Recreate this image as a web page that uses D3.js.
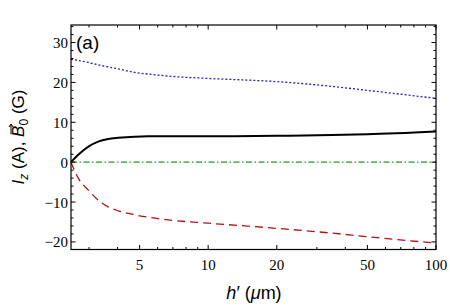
<!DOCTYPE html>
<html>
<head>
<meta charset="utf-8">
<script src="https://cdn.jsdelivr.net/npm/d3@7"></script>
<style>
  body { margin: 0; background: #fff; }
  svg { display: block; }
  .tick-label { font-family: "Liberation Serif", "DejaVu Serif", serif; font-size: 15px; fill: #000; }
  .axis-title { font-family: "Liberation Sans", Arial, sans-serif; font-size: 17px; fill: #000; }
</style>
</head>
<body>
<svg id="chart" width="450" height="307"></svg>
<script>
// data
const hVals = [2.5, 2.69, 2.98, 3.29, 3.64, 4.03, 4.77, 5.45, 7, 10, 20, 35, 50, 100];
const blackVals = [0, 1.85, 3.9, 5.15, 5.8, 6.1, 6.4, 6.5, 6.5, 6.5, 6.6, 6.8, 7.0, 7.7];
const blueVals = [25.8, 25.5, 25.0, 24.4, 23.9, 23.4, 22.5, 22.1, 21.5, 21.0, 20.2, 19.0, 18.0, 16.0];
const redVals = [0, -4.0, -7.0, -9.5, -11.2, -12.2, -13.2, -13.8, -14.6, -15.3, -16.6, -17.8, -18.7, -20.3];
const greenVals = [0, 0];
const greenH = [2.5, 100];

const xMajor = [5, 10, 20, 50, 100];
const xMinor = [3, 4, 6, 7, 8, 9, 30, 40, 60, 70, 80, 90];
const yMajor = [-20, -10, 0, 10, 20, 30];

const svg = d3.select('#chart');
const mLeft = 71, mRight = 436, mTop = 25, mBottom = 249.5;

const x = d3.scaleLog().domain([2.5, 100]).range([mLeft, mRight]);
const y = d3.scaleLinear().domain([-21.9, 34.4]).range([mBottom, mTop]);

const yMinor = d3.range(-20, 35, 2).filter(v => yMajor.indexOf(v) < 0);

// curves
const line = d3.line()
  .x(d => x(d[0]))
  .y(d => y(d[1]))
  .curve(d3.curveMonotoneX);

const plot = svg.append('g');

plot.append('path')
  .datum(greenH.map((h, i) => [h, greenVals[i]]))
  .attr('d', line)
  .attr('fill', 'none')
  .attr('stroke', '#1f9a1f')
  .attr('stroke-width', 1.2)
  .attr('stroke-dasharray', '6,2.5,1.5,2.5');

plot.append('path')
  .datum(hVals.map((h, i) => [h, blueVals[i]]))
  .attr('d', line)
  .attr('fill', 'none')
  .attr('stroke', '#2323c8')
  .attr('stroke-width', 1.3)
  .attr('stroke-dasharray', '2,2');

plot.append('path')
  .datum(hVals.map((h, i) => [h, redVals[i]]))
  .attr('d', line)
  .attr('fill', 'none')
  .attr('stroke', '#b81010')
  .attr('stroke-width', 1.3)
  .attr('stroke-dasharray', '8,5');

plot.append('path')
  .datum(hVals.map((h, i) => [h, blackVals[i]]))
  .attr('d', line)
  .attr('fill', 'none')
  .attr('stroke', '#000')
  .attr('stroke-width', 2);

// frame
svg.append('rect')
  .attr('x', mLeft).attr('y', mTop)
  .attr('width', mRight - mLeft).attr('height', mBottom - mTop)
  .attr('fill', 'none')
  .attr('stroke', '#000')
  .attr('stroke-width', 1.2);

// ticks, all pointing inward
const ticks = svg.append('g').attr('stroke', '#000').attr('stroke-width', 1);
function xTick(v, len) {
  ticks.append('line').attr('x1', x(v)).attr('x2', x(v)).attr('y1', mBottom).attr('y2', mBottom - len);
  ticks.append('line').attr('x1', x(v)).attr('x2', x(v)).attr('y1', mTop).attr('y2', mTop + len);
}
function yTick(v, len) {
  ticks.append('line').attr('y1', y(v)).attr('y2', y(v)).attr('x1', mLeft).attr('x2', mLeft + len);
  ticks.append('line').attr('y1', y(v)).attr('y2', y(v)).attr('x1', mRight).attr('x2', mRight - len);
}
xMajor.forEach(v => xTick(v, 4.5));
xMinor.forEach(v => xTick(v, 2.5));
yMajor.forEach(v => yTick(v, 4.5));
yMinor.forEach(v => yTick(v, 2.5));

// tick labels
svg.append('g').selectAll('text')
  .data(xMajor)
  .join('text')
  .attr('class', 'tick-label')
  .attr('x', d => x(d))
  .attr('y', mBottom + 20.5)
  .attr('text-anchor', 'middle')
  .text(d => d);

svg.append('g').selectAll('text')
  .data(yMajor)
  .join('text')
  .attr('class', 'tick-label')
  .attr('x', mLeft - 3)
  .attr('y', d => y(d) + 5.5)
  .attr('text-anchor', 'end')
  .text(d => d < 0 ? '\u2212' + Math.abs(d) : d);

// panel label
svg.append('text')
  .attr('class', 'axis-title')
  .attr('x', mLeft + 5)
  .attr('y', mTop + 24)
  .style('font-size', '19px')
  .text('(a)');

// x title
const xt = svg.append('text')
  .attr('class', 'axis-title')
  .attr('x', 254)
  .attr('y', 299)
  .attr('text-anchor', 'middle')
  .style('font-size', '18px');
xt.append('tspan').style('font-style', 'italic').text('h');
xt.append('tspan').text('\u2032 (');
xt.append('tspan').style('font-style', 'italic').text('\u03bc');
xt.append('tspan').text('m)');

// y title
const yg = svg.append('g').attr('transform', 'translate(24,137) rotate(-90)');
const yt = yg.append('text')
  .attr('class', 'axis-title')
  .attr('text-anchor', 'middle');
yt.append('tspan').style('font-style', 'italic').text('I');
yt.append('tspan').style('font-style', 'italic').style('font-size', '12px').attr('dy', 4).text('z');
yt.append('tspan').attr('dy', -4).text(' (A), ');
yt.append('tspan').style('font-style', 'italic').text('B');
yt.append('tspan').style('font-size', '12px').attr('dy', 4).text('0');
yt.append('tspan').attr('dy', -4).text(' (G)');

// vector arrow over the B
const bBox = yt.node().getExtentOfChar(8);
const ax0 = bBox.x + 2.5, ax1 = bBox.x + bBox.width + 1.5, ay = bBox.y + 2;
yg.append('path')
  .attr('d', `M${ax0},${ay}H${ax1}M${ax1 - 3},${ay - 2}L${ax1},${ay}L${ax1 - 3},${ay + 2}`)
  .attr('fill', 'none')
  .attr('stroke', '#000')
  .attr('stroke-width', 1);
</script>
</body>
</html>
